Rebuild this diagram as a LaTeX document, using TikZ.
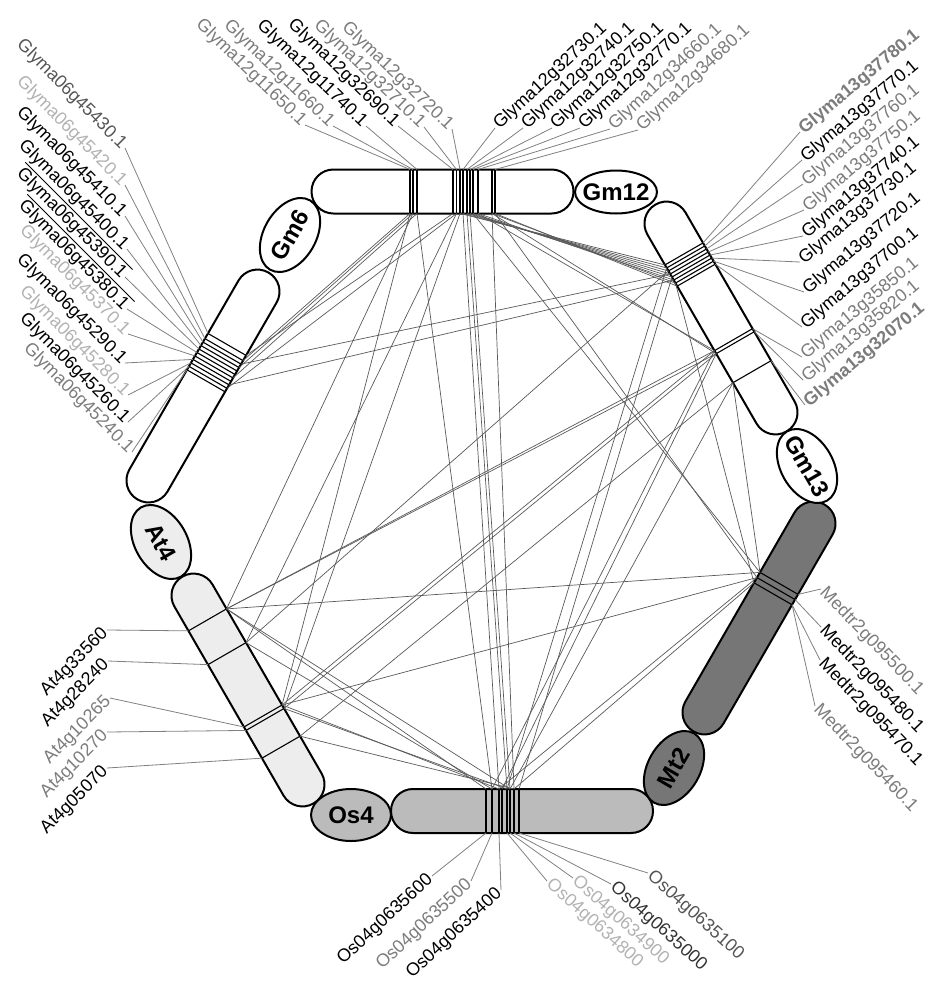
\documentclass[tikz,border=0pt]{standalone}
\usepackage{fontspec}
\setmainfont{Liberation Sans}
\usetikzlibrary{shapes.geometric}

\definecolor{mtfill}{HTML}{767676}
\definecolor{osfill}{HTML}{BBBBBB}
\definecolor{atfill}{HTML}{EDEDED}
\definecolor{glight}{HTML}{B2B2B2}
\definecolor{gmid}{HTML}{7C7C7C}
\definecolor{gdark}{HTML}{555555}

\tikzset{
  chrom/.style={draw=black, line width=2pt, rounded corners=21.9pt},
  band/.style={line width=1.1pt},
  oval/.style={ellipse, draw=black, line width=2pt, minimum width=80pt, minimum height=52pt,
    inner sep=0pt, font=\fontsize{24}{24}\selectfont\bfseries},
  gene/.style={font=\fontsize{18}{18}\selectfont, inner sep=2pt},
  tick/.style={draw=black!50, line width=0.8pt},
  syn/.style={draw=black!65, line width=0.7pt},
}

\begin{document}
\begin{tikzpicture}[x=1pt, y=-1pt]
\useasboundingbox (0,0) rectangle (929,988);

% chromosomes, bands at local positions along the axis
\begin{scope}[shift={(442.5,191.5)}]
  \draw[chrom, fill=white] (-131,-22) rectangle (131,22);
  \foreach \s [count=\k] in {-32.5,-29.5,-25.5,10.5,14,17.5,20.5,24.5,27.5,30.5,35.5,49.5,52.5} {
    \draw[band] (\s,-22) -- (\s,22);
    \coordinate (g12o\k) at (\s,-22);
    \coordinate (g12i\k) at (\s,22);
  }
\end{scope}
\begin{scope}[shift={(721,318)}, rotate=-60]
  \draw[chrom, fill=white] (-131,-22) rectangle (131,22);
  \foreach \s [count=\k] in {-74,-70.5,-67,-63.5,-60,-56.5,-53,-49.5,25,28.5,62} {
    \draw[band] (\s,-22) -- (\s,22);
    \coordinate (g13o\k) at (\s,-22);
    \coordinate (g13i\k) at (\s,22);
  }
\end{scope}
\begin{scope}[shift={(759,618)}, rotate=-120]
  \draw[chrom, fill=mtfill] (-131,-22) rectangle (131,22);
  \foreach \s [count=\k] in {-40,-34,-28} {
    \draw[band] (\s,-22) -- (\s,22);
    \coordinate (mto\k) at (\s,-22);
    \coordinate (mti\k) at (\s,22);
  }
\end{scope}
\begin{scope}[shift={(522,811)}, rotate=180]
  \draw[chrom, fill=osfill] (-131,-22) rectangle (131,22);
  \foreach \s [count=\k] in {36,30,23,20,15,12,8,3} {
    \draw[band] (\s,-22) -- (\s,22);
    \coordinate (oso\k) at (\s,-22);
    \coordinate (osi\k) at (\s,22);
  }
\end{scope}
\begin{scope}[shift={(248,690)}, rotate=120]
  \draw[chrom, fill=atfill] (-131,-22) rectangle (131,22);
  \foreach \s [count=\k] in {81,42,-30,-34,-66} {
    \draw[band] (\s,-22) -- (\s,22);
    \coordinate (ato\k) at (\s,-22);
    \coordinate (ati\k) at (\s,22);
  }
\end{scope}
\begin{scope}[shift={(203,386)}, rotate=60]
  \draw[chrom, fill=white] (-131,-22) rectangle (131,22);
  \foreach \s [count=\k] in {48,42,38,34,30,26,22,18,14,10,6} {
    \draw[band] (\s,-22) -- (\s,22);
    \coordinate (g6o\k) at (\s,-22);
    \coordinate (g6i\k) at (\s,22);
  }
\end{scope}

% chromosome names
\node[oval, fill=white, minimum width=82pt, minimum height=43pt] (gm12) at (616,192) {\makebox[0pt]{Gm12}};
\node[oval, fill=white, rotate=-60] (gm13) at (807,466) {\makebox[0pt]{Gm13}};
\node[oval, fill=mtfill, rotate=60] (mt2) at (674,768) {\makebox[0pt]{Mt2}};
\node[oval, fill=osfill] (os4) at (351,815) {\makebox[0pt]{Os4}};
\node[oval, fill=atfill, rotate=-60] (at4) at (161,542) {\makebox[0pt]{At4}};
\node[oval, fill=white, rotate=60] (gm6) at (290,235) {\makebox[0pt]{Gm6}};

% syntenic links
\foreach \a/\b in {g12i1/g6i2, g12i2/g6i4, g12i3/g6i7, g12i4/g6i1, g12i5/g6i10,
    g12i1/ati3, g12i2/ati1, g12i3/osi2, g12i5/ati2, g12i6/ati4, g12i7/osi3,
    g12i8/osi5, g12i9/osi6, g12i6/g13i1, g12i7/g13i2, g12i8/g13i3, g12i9/g13i4,
    g12i10/g13i5, g12i11/g13i6, g12i12/g13i7, g12i13/g13i8, g12i10/mti1,
    g12i11/g13i9, g12i12/g13i10, g12i13/mti2, g12i12/osi7,
    g6i3/g13i4, g6i9/g13i6,
    g13i9/ati1, g13i10/ati1, g13i9/ati3, g13i10/ati4, g13i9/osi2, g13i10/osi4,
    g13i11/osi6, g13i11/ati5, g13i11/mti1, g13i2/osi5, g13i5/osi8, g13i7/mti3,
    g13i3/ati2, mti1/ati1, mti2/osi3, mti3/osi7, mti2/ati3,
    ati1/osi1, ati2/osi2, ati3/osi3, ati4/osi5, ati5/osi7, ati1/osi6}
  \draw[syn] (\a) -- (\b);

% Gm12 genes
\begin{scope}[every node/.style={gene, rotate=-44, anchor=east}]
  \node[text=gmid] (l11650) at (305,125) {Glyma12g11650.1};
  \node[text=gmid] (l11660) at (333,126) {Glyma12g11660.1};
  \node (l11740) at (366,126) {Glyma12g11740.1};
  \node (l32690) at (398,126) {Glyma12g32690.1};
  \node[text=gmid] (l32710) at (424,127) {Glyma12g32710.1};
  \node[text=gmid] (l32720) at (452,129) {Glyma12g32720.1};
\end{scope}
\begin{scope}[every node/.style={gene, rotate=43, anchor=west}]
  \node (l32730) at (495,128) {Glyma12g32730.1};
  \node (l32740) at (523,128) {Glyma12g32740.1};
  \node (l32750) at (552,128) {Glyma12g32750.1};
  \node (l32770) at (580,128) {Glyma12g32770.1};
  \node[text=gmid] (l34660) at (610,129) {Glyma12g34660.1};
  \node[text=gmid] (l34680) at (638,130) {Glyma12g34680.1};
\end{scope}
\foreach \g/\l in {g12o1/l11650, g12o2/l11660, g12o3/l11740, g12o4/l32690, g12o5/l32710, g12o6/l32720}
  \draw[tick] (\g) -- (\l.east);
\foreach \g/\l in {g12o7/l32730, g12o8/l32740, g12o9/l32750, g12o10/l32770, g12o11/l34660, g12o13/l34680}
  \draw[tick] (\g) -- (\l.west);

% Gm13 genes
\begin{scope}[every node/.style={gene, rotate=40, anchor=west}]
  \node[text=gmid] (l37780) at (800,132) {\bfseries Glyma13g37780.1};
  \node (l37770) at (802,160) {Glyma13g37770.1};
  \node[text=gmid] (l37760) at (803,184) {Glyma13g37760.1};
  \node[text=gmid] (l37750) at (804,210) {Glyma13g37750.1};
  \node (l37740) at (803,236) {Glyma13g37740.1};
  \node (l37730) at (800,262) {Glyma13g37730.1};
  \node (l37720) at (804,292) {Glyma13g37720.1};
  \node (l37700) at (802,327) {Glyma13g37700.1};
  \node[text=gmid] (l35850) at (802,357) {Glyma13g35850.1};
  \node[text=gmid] (l35820) at (803,380) {Glyma13g35820.1};
  \node[text=gmid] (l32070) at (805,405) {\bfseries Glyma13g32070.1};
\end{scope}
\foreach \g/\l in {g13o1/l37780, g13o2/l37770, g13o3/l37760, g13o4/l37750, g13o5/l37740, g13o6/l37730,
    g13o7/l37720, g13o8/l37700, g13o9/l35850, g13o10/l35820, g13o11/l32070}
  \draw[tick] (\g) -- (\l.west);

% Gm6 genes
\begin{scope}[every node/.style={gene, rotate=-45, anchor=east}]
  \node[text=gdark] (l45430) at (125,148) {Glyma06g45430.1};
  \node[text=glight] (l45420) at (125,185) {Glyma06g45420.1};
  \node (l45410) at (125,216) {Glyma06g45410.1};
  \node (l45400) at (127,249) {Glyma06g45400.1};
  \node (l45390) at (125,277) {Glyma06g45390.1};
  \node (l45380) at (127,309) {Glyma06g45380.1};
  \node[text=glight] (l45370) at (128,334) {Glyma06g45370.1};
  \node (l45290) at (125,363) {Glyma06g45290.1};
  \node[text=glight] (l45280) at (128,395) {Glyma06g45280.1};
  \node (l45260) at (128,422) {Glyma06g45260.1};
  \node[text=gmid] (l45240) at (132,452) {Glyma06g45240.1};
\end{scope}
\foreach \g/\l in {g6o1/l45430, g6o2/l45420, g6o3/l45410, g6o4/l45400, g6o5/l45390, g6o6/l45380,
    g6o7/l45370, g6o8/l45290, g6o9/l45280, g6o10/l45260, g6o11/l45240}
  \draw[tick] (\g) -- (\l.east);
\draw[line width=0.9pt] (l45390.north west) -- (l45390.north east);
\draw[line width=0.9pt] (l45380.north west) -- (l45380.north east);

% Mt2 genes
\begin{scope}[every node/.style={gene, rotate=-46, anchor=west}]
  \node[text=gmid] (l95500) at (821,589) {Medtr2g095500.1};
  \node (l95480) at (821,627) {Medtr2g095480.1};
  \node (l95470) at (820,660) {Medtr2g095470.1};
  \node[text=gmid] (l95460) at (815,706) {Medtr2g095460.1};
\end{scope}
\foreach \g/\l in {mto1/l95500, mto2/l95480, mto3/l95470, mto3/l95460}
  \draw[tick] (\g) -- (\l.west);

% Os4 genes
\begin{scope}[every node/.style={gene, rotate=43, anchor=east}]
  \node (l35600) at (432,876) {Os04g0635600};
  \node[text=gmid] (l35500) at (471,881) {Os04g0635500};
  \node (l35400) at (501,890) {Os04g0635400};
\end{scope}
\begin{scope}[every node/.style={gene, rotate=-42, anchor=west}]
  \node[text=glight] (l34800) at (547,881) {Os04g0634800};
  \node[text=glight] (l34900) at (573,878) {Os04g0634900};
  \node[text=black!80] (l35000) at (611,884) {Os04g0635000};
  \node[text=gdark] (l35100) at (648,873) {Os04g0635100};
\end{scope}
\foreach \g/\l in {oso1/l35600, oso2/l35500, oso3/l35400}
  \draw[tick] (\g) -- (\l.east);
\foreach \g/\l in {oso5/l34800, oso6/l34900, oso7/l35000, oso8/l35100}
  \draw[tick] (\g) -- (\l.west);

% At4 genes
\begin{scope}[every node/.style={gene, rotate=45, anchor=east}]
  \node (l33560) at (107,630) {At4g33560};
  \node (l28240) at (108,661) {At4g28240};
  \node[text=gmid] (l10265) at (110,698) {At4g10265};
  \node[text=gmid] (l10270) at (107,732) {At4g10270};
  \node (l05070) at (107,768) {At4g05070};
\end{scope}
\foreach \g/\l in {ato1/l33560, ato2/l28240, ato3/l10265, ato4/l10270, ato5/l05070}
  \draw[tick] (\g) -- (\l.east);
\end{tikzpicture}
\end{document}
